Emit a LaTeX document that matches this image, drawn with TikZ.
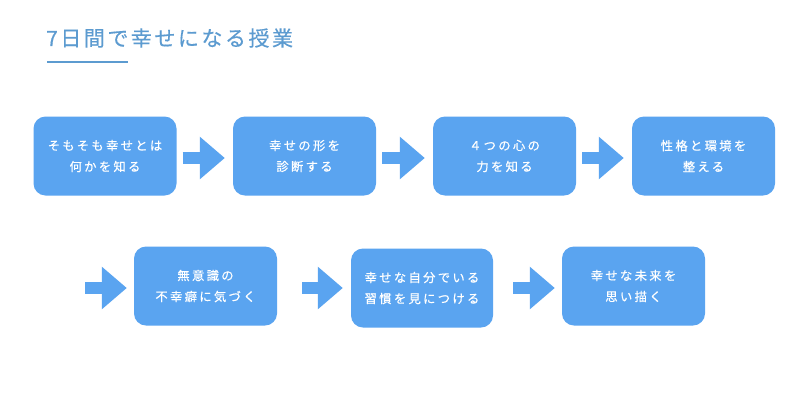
\documentclass[tikz,border=0pt]{standalone}
\usepackage{fontspec}
\newfontfamily\jpfont{Noto Sans CJK JP}[LetterSpace=19,FakeBold=0.5]
\newfontfamily\jptitle{Noto Sans CJK JP}[LetterSpace=12,FakeBold=0.4]
\usetikzlibrary{arrows.meta}
\definecolor{titleblue}{RGB}{92,155,208}
\definecolor{boxblue}{RGB}{90,164,240}
\begin{document}
\begin{tikzpicture}[x=1pt,y=-1pt,
	% kiểu cho các hộp bước
	buoc/.style={rectangle, rounded corners=12pt, fill=boxblue, text=white, minimum width=143pt, minimum height=79pt, inner sep=0pt, align=center, font=\jpfont\fontsize{12.3}{21}\selectfont},
	% kiểu cho các mũi tên dày
	muiten/.style={boxblue, line width=12pt, -{Triangle[length=25pt, width=41pt]}},
	tieude/.style={text=titleblue, anchor=west, inner sep=0pt, font=\jptitle\fontsize{21}{24}\selectfont}]
	\useasboundingbox[fill=white] (0,0) rectangle (800,405);

	% tiêu đề và gạch dưới
	\node[tieude] (title) at (46,38) {7日間で幸せになる授業};
	\coordinate (u1) at (47,62);
	\coordinate (u2) at (128,62);
	\draw[titleblue, line width=2pt] (u1) -- (u2);

	% hàng thứ nhất
	\node[buoc] (b1) at (105,156) {そもそも幸せとは\\何かを知る};
	\node[buoc] (b2) at (304.5,156) {幸せの形を\\診断する};
	\node[buoc] (b3) at (504.5,156) {４つの心の\\力を知る};
	\node[buoc] (b4) at (703.5,156) {性格と環境を\\整える};

	% hàng thứ hai
	\coordinate (s2) at (85,288);
	\node[buoc] (b5) at (205.5,286) {無意識の\\不幸癖に気づく};
	\node[buoc, minimum width=142pt] (b6) at (422,288) {幸せな自分でいる\\習慣を見につける};
	\node[buoc] (b7) at (633.5,286) {幸せな未来を\\思い描く};

	% các mũi tên
	\draw[muiten] ([xshift=6pt]b1.east |- 0,158) -- ([xshift=-8pt]b2.west |- 0,158);
	\draw[muiten] ([xshift=6pt]b2.east |- 0,158) -- ([xshift=-8pt]b3.west |- 0,158);
	\draw[muiten] ([xshift=6pt]b3.east |- 0,158) -- ([xshift=-8pt]b4.west |- 0,158);
	\draw[muiten] (s2) -- ([xshift=-7pt]b5.west |- s2);
	\draw[muiten] ([xshift=25pt]b5.east |- s2) -- ([xshift=-8pt]b6.west |- s2);
	\draw[muiten] ([xshift=20pt]b6.east |- s2) -- ([xshift=-7pt]b7.west |- s2);
\end{tikzpicture}
\end{document}
